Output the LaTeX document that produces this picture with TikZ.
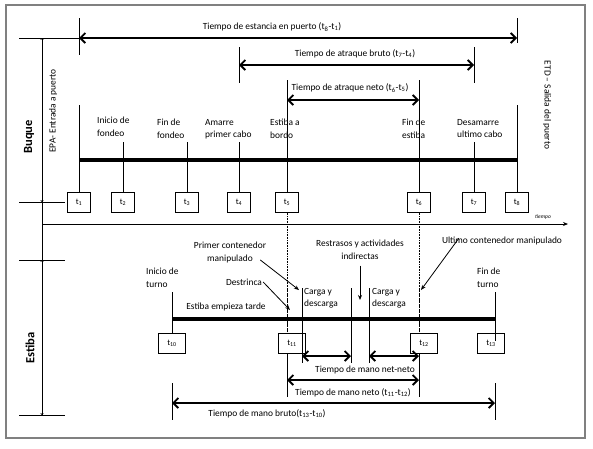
\documentclass[tikz,border=0pt]{standalone}
\usepackage{fontspec}
\setmainfont{Carlito}
\usetikzlibrary{arrows.meta,positioning}

\begin{document}
\begin{tikzpicture}[x=1pt, y=-1pt,
    every node/.style={inner sep=0pt, font=\fontsize{9.4}{12.5}\selectfont},
    box/.style={draw, fill=white, anchor=north, minimum width=23pt,
        minimum height=20pt, line width=.7pt, font=\fontsize{8.5}{9}\selectfont},
    wbox/.style={box, minimum width=27pt},
    lbl/.style={anchor=north west, align=left},
    span/.style={line width=1.8pt,
        {Straight Barb[length=5pt,width=10pt]}-{Straight Barb[length=5pt,width=10pt]}},
    pointer/.style={line width=.8pt, -{Stealth[length=5pt,width=4pt]}},
    dim/.style={line width=.7pt, {To[length=2pt,width=3pt]}-{To[length=2pt,width=3pt]}},
    timeline/.style={line width=3.8pt}]

    \useasboundingbox (0,0) rectangle (593,448);
    \draw[gray, line width=1.3pt] (6,5) rectangle (585,438);

    % ship and stevedoring boxes
    \foreach \n/\x in {1/79,2/123,3/187,4/239,5/287,6/419,7/474,8/517}
        \node[box] (t\n) at (\x,192) {t\textsubscript{\n}};
    \foreach \n/\x in {10/172,11/292,12/424,13/491}
        \node[wbox] (t\n) at (\x,333) {t\textsubscript{\n}};

    % left scale
    \draw[line width=.7pt] (42,38) -- (42,415);
    \foreach \y in {38,202,260,415}
        \draw[line width=.7pt] (19,\y) -- (65,\y);
    \draw[line width=.7pt] (65,38) -- (t1.north |- 0,38);
    \draw[dim] (42,38) -- (42,202);
    \draw[dim] (42,260) -- (42,415);
    \node[rotate=90, font=\fontsize{12.5}{14}\selectfont\bfseries] at (29,137) {Buque};
    \node[rotate=90, font=\fontsize{12.5}{14}\selectfont\bfseries] at (30,348) {Estiba};
    \node[rotate=90] at (53,111) {EPA- Entrada a puerto};
    \node[rotate=-90] at (547,105) {ETD – Salida del puerto};

    % time axis
    \draw[line width=.8pt, -{Stealth[length=5pt,width=4pt]}] (42,224) -- (568,224);
    \node[font=\fontsize{5.5}{6}\selectfont\itshape] at (543,217) {tiempo};

    % ship timeline
    \draw[timeline] (t1.north |- 0,160) -- (t8.north |- 0,160);
    \foreach \n/\y in {1/105,2/142,3/142,4/142,5/80,6/80,7/142,8/105}
        \draw[line width=.7pt] (t\n.north) -- (t\n.north |- 0,\y);
    \node[lbl] at (97,117) {Inicio de\\fondeo};
    \node[lbl] at (157,119) {Fin de\\fondeo};
    \node[lbl] at (205,119) {Amarre\\primer cabo};
    \node[lbl] at (270,119) {Estiba a\\bordo};
    \node[lbl] at (402,119) {Fin de\\estiba};
    \node[lbl] at (457,119) {Desamarre\\ultimo cabo};

    % port times
    \draw[line width=.7pt] (t1.north |- 0,18) -- (t1.north |- 0,55);
    \draw[line width=.7pt] (t8.north |- 0,18) -- (t8.north |- 0,43);
    \draw[span] (t1.north |- 0,38) -- (t8.north |- 0,38);
    \node at (272,27) {Tiempo de estancia en puerto (t\textsubscript{8}-t\textsubscript{1})};
    \draw[line width=.7pt] (t4.north |- 0,47) -- (t4.north |- 0,83);
    \draw[line width=.7pt] (t7.north |- 0,47) -- (t7.north |- 0,83);
    \draw[span] (t4.north |- 0,65) -- (t7.north |- 0,65);
    \node at (355,54) {Tiempo de atraque bruto (t\textsubscript{7}-t\textsubscript{4})};
    \draw[span] (t5.north |- 0,100) -- (t6.north |- 0,100);
    \node at (350,88) {Tiempo de atraque neto (t\textsubscript{6}-t\textsubscript{5})};

    % links between the two timelines
    \draw[densely dotted, line width=.6pt] (t5.south) -- (t5.south |- t11.north);
    \draw[densely dotted, line width=.6pt] (t6.south) -- (t6.south |- t12.north);
    \draw[densely dashed, line width=1pt] (t5.south |- 0,289) -- (t5.south |- t11.north);
    \draw[densely dashed, line width=1pt] (t6.south |- 0,289) -- (t6.south |- t12.north);

    % stevedoring timeline
    \draw[timeline] (t10.north |- 0,319) -- (495,319);
    \draw[line width=.7pt] (t10.north) -- (t10.north |- 0,292);
    \draw[line width=.7pt] (495,292) -- (495,341);
    \foreach \x in {302,351,369}
        \draw[line width=.7pt] (\x,288) -- (\x,363);
    \node[lbl] at (146,268) {Inicio de\\turno};
    \node[lbl] at (477,268) {Fin de\\turno};
    \node[lbl] at (304,288) {Carga y\\descarga};
    \node[lbl] at (372,288) {Carga y\\descarga};
    \node at (226,307) {Estiba empieza tarde};
    \node[anchor=north, align=center] (pcm) at (230,242) {Primer contenedor\\manipulado};
    \node (dst) at (244,282) {Destrinca};
    \node[anchor=north, align=center] (rai) at (360,240) {Restrasos y actividades\\indirectas};
    \node (ucm) at (502,241) {Ultimo contenedor manipulado};
    \coordinate (pcmend) at (299,290);
    \coordinate (dstend) at (290,310);
    \coordinate (raiend) at (360,300);
    \coordinate (ucmend) at (421,290);
    \draw[pointer] ([shift={(-6,-3)}]pcm.south east) -- (pcmend);
    \draw[pointer] ([xshift=1pt]dst.east) -- (dstend);
    \draw[pointer] ([yshift=-6pt]rai.south) -- (raiend);
    \draw[pointer] ([shift={(17,-7)}]ucm.south west) -- (ucmend);

    % handling times
    \draw[line width=.7pt] (t5.south |- t11.south) -- (t5.south |- 0,397);
    \draw[line width=.7pt] (t6.south |- t12.south) -- (t6.south |- 0,397);
    \draw[span] (302,356) -- (351,356);
    \draw[span] (369,356) -- (t6.south |- 0,356);
    \node at (365,370) {Tiempo de mano net-neto};
    \draw[span] (t5.south |- 0,380) -- (t6.south |- 0,380);
    \node at (353,393) {Tiempo de mano neto (t\textsubscript{11}-t\textsubscript{12})};
    \draw[line width=.7pt] (t10.south |- 0,383) -- (t10.south |- 0,420);
    \draw[line width=.7pt] (495,383) -- (495,420);
    \draw[span] (t10.south |- 0,403) -- (495,403);
    \node at (267,414) {Tiempo de mano bruto(t\textsubscript{13}-t\textsubscript{10})};
\end{tikzpicture}
\end{document}
